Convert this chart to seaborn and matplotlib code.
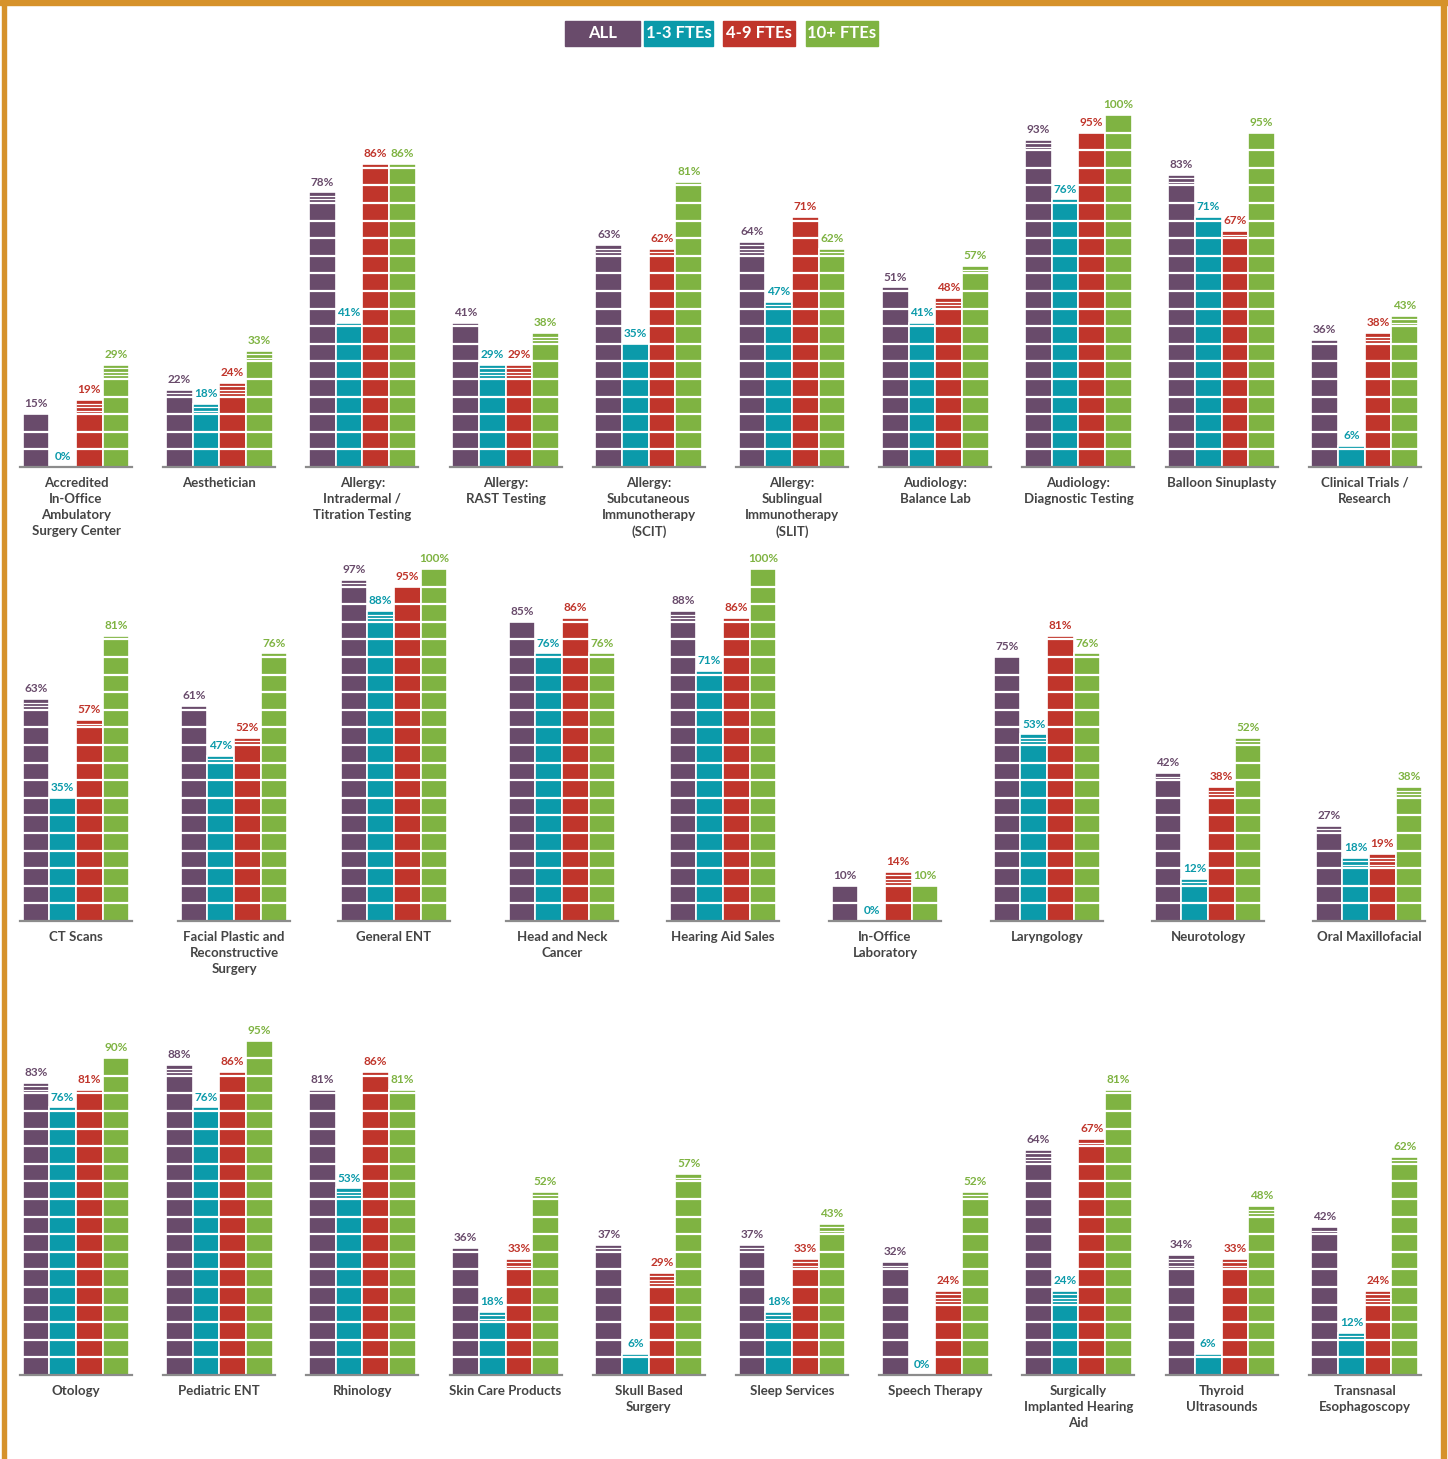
import matplotlib
matplotlib.use("Agg")
import matplotlib.pyplot as plt
import seaborn as sn
import numpy as np
import pandas as pd
from matplotlib.patches import Rectangle

sn.set_style("white")
plt.rcParams['font.family'] = ['Lato', 'DejaVu Sans']

groups = ["ALL", "1-3 FTEs", "4-9 FTEs", "10+ FTEs"]
colors = ["#694b6b", "#0b9aaa", "#c0352b", "#7fb342"]
palette_dict = {g: c for g, c in zip(groups, colors)}

row1_names = ["Accredited\nIn-Office\nAmbulatory\nSurgery Center", "Aesthetician",
              "Allergy:\nIntradermal /\nTitration Testing", "Allergy:\nRAST Testing",
              "Allergy:\nSubcutaneous\nImmunotherapy\n(SCIT)",
              "Allergy:\nSublingual\nImmunotherapy\n(SLIT)", "Audiology:\nBalance Lab",
              "Audiology:\nDiagnostic Testing", "Balloon Sinuplasty",
              "Clinical Trials /\nResearch"]
row1_values = [[15, 0, 19, 29], [22, 18, 24, 33], [78, 41, 86, 86], [41, 29, 29, 38],
               [63, 35, 62, 81], [64, 47, 71, 62], [51, 41, 48, 57], [93, 76, 95, 100],
               [83, 71, 67, 95], [36, 6, 38, 43]]

row2_names = ["CT Scans", "Facial Plastic and\nReconstructive\nSurgery", "General ENT",
              "Head and Neck\nCancer", "Hearing Aid Sales", "In-Office\nLaboratory",
              "Laryngology", "Neurotology", "Oral Maxillofacial"]
row2_values = [[63, 35, 57, 81], [61, 47, 52, 76], [97, 88, 95, 100], [85, 76, 86, 76],
               [88, 71, 86, 100], [10, 0, 14, 10], [75, 53, 81, 76], [42, 12, 38, 52],
               [27, 18, 19, 38]]

row3_names = ["Otology", "Pediatric ENT", "Rhinology", "Skin Care Products",
              "Skull Based\nSurgery", "Sleep Services", "Speech Therapy",
              "Surgically\nImplanted Hearing\nAid", "Thyroid\nUltrasounds",
              "Transnasal\nEsophagoscopy"]
row3_values = [[83, 76, 81, 90], [88, 76, 86, 95], [81, 53, 86, 81], [36, 18, 33, 52],
               [37, 6, 29, 57], [37, 18, 33, 43], [32, 0, 24, 52], [64, 24, 67, 81],
               [34, 6, 33, 48], [42, 12, 24, 62]]

W, H = 1448, 1459
fig = plt.figure(figsize=(W / 100, H / 100), dpi=100)


def draw_panel(ax, name, values):
    df = pd.DataFrame({"group": groups, "value": values})
    sn.barplot(data=df, x="group", y="value", hue="group", palette=palette_dict,
               width=1.0, legend=False, ax=ax, edgecolor="white", linewidth=1.2,
               saturation=1)
    ax.set_xlim(-0.6, 3.6)
    ax.set_ylim(0, 100)
    # block lines every 5% and thin stripes on the partial block
    for p in ax.patches:
        h = p.get_height()
        x0, x1 = p.get_x(), p.get_x() + p.get_width()
        full = int(h // 5) * 5
        blocks = np.arange(5, full + 1, 5)
        blocks = blocks[blocks < h]
        if len(blocks):
            ax.hlines(blocks, x0, x1, colors="white", linewidth=1.6)
        stripes = np.arange(full + 1, h, 1)
        if len(stripes):
            ax.hlines(stripes, x0, x1, colors="white", linewidth=0.9)
    for i, v in enumerate(values):
        ax.text(i, v + 1.4, "{0}%".format(v), ha="center", va="bottom",
                fontsize=8.5, color=colors[i], fontweight="bold", clip_on=False)
    ax.text(0.5, -0.028, name, transform=ax.transAxes, ha="center", va="top",
            fontsize=9.5, color="#444444", fontweight="bold", linespacing=1.4)
    for s in ["top", "left", "right"]:
        ax.spines[s].set_visible(False)
    ax.spines["bottom"].set_color("#8c8c8c")
    ax.spines["bottom"].set_linewidth(1.6)
    ax.set_xticks([])
    ax.set_yticks([])
    ax.set_xlabel("")
    ax.set_ylabel("")
    ax.patch.set_alpha(0)


# panel left edges in pixels for each row
row1_left = [20 + i * 143.2 for i in range(10)]
row2_left = [20, 178, 338, 506, 667, 829, 991, 1152, 1313]
row3_left = row1_left

rows = [(row1_names, row1_values, 467, row1_left),
        (row2_names, row2_values, 921, row2_left),
        (row3_names, row3_values, 1375, row3_left)]

for names, vals, base, lefts in rows:
    for n, v, left in zip(names, vals, lefts):
        ax = fig.add_axes([left / W, (H - base) / H, 112 / W, 352 / H])
        draw_panel(ax, n, v)

# legend boxes at top
legend_x = [565, 644, 723, 806]
legend_w = [75, 69, 72, 72]
for g, c, x, w in zip(groups, colors, legend_x, legend_w):
    fig.patches.append(Rectangle((x / W, (H - 46) / H), w / W, 25 / H,
                                 transform=fig.transFigure, color=c, zorder=5))
    fig.text((x + w / 2) / W, (H - 33.5) / H, g, ha="center", va="center",
             color="white", fontsize=12, fontweight="bold", zorder=6)

# orange frame
frame = "#d6922b"
fig.patches.append(Rectangle((0, (H - 5) / H), 1, 5 / H, transform=fig.transFigure,
                             color=frame, zorder=10))
fig.patches.append(Rectangle((2 / W, 0), 4 / W, 1, transform=fig.transFigure,
                             color=frame, zorder=10))
fig.patches.append(Rectangle((1441 / W, 0), 5 / W, 1, transform=fig.transFigure,
                             color=frame, zorder=10))

fig.savefig("out.png", dpi=100)
